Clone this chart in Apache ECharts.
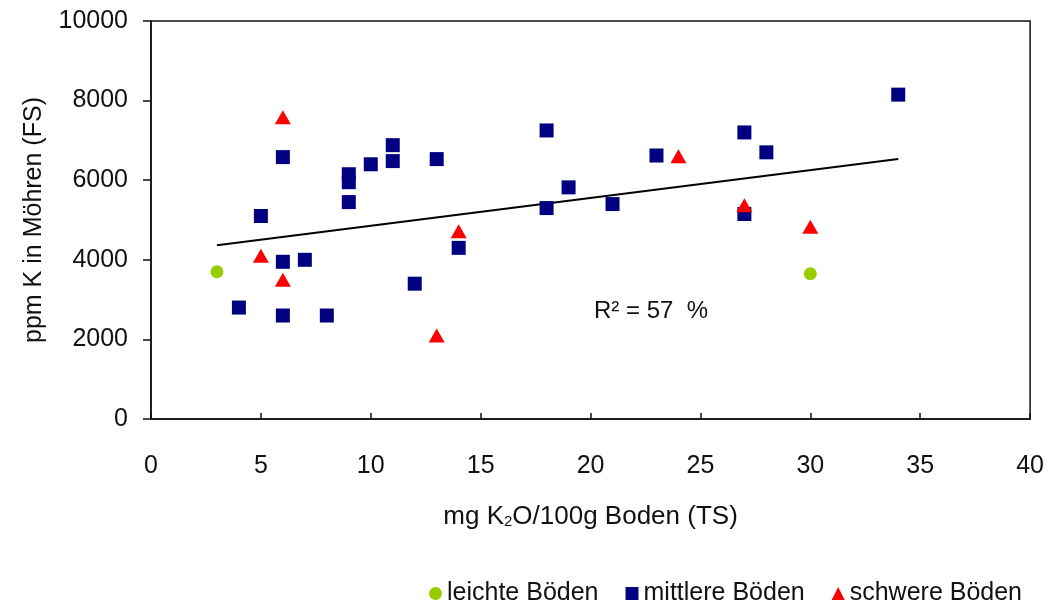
<!DOCTYPE html>
<html>
<head>
<meta charset="utf-8">
<script src="https://cdn.jsdelivr.net/npm/echarts@6/dist/echarts.min.js"></script>
<style>
  html, body { margin: 0; padding: 0; background: #fff; }
  #chart { width: 1047px; height: 606px; }
</style>
</head>
<body>
<div id="chart"></div>
<script>
// Werte: [mg K2O/100g Boden, ppm K in Möhren]
var leichteBoeden = [[3, 3700], [30, 3650]]
var mittlereBoeden = [
  [4, 2800], [5, 5100], [6, 6580], [6, 3950], [6, 2600], [7, 4000], [8, 2600],
  [9, 5450], [9, 6150], [9, 5950], [10, 6400], [11, 6880], [11, 6480],
  [12, 3400], [13, 6530], [14, 4300], [18, 7250], [18, 5300], [19, 5820],
  [21, 5400], [23, 6620], [27, 7200], [27, 5150], [28, 6700], [34, 8150]
]
var schwereBoeden = [
  [5, 4100], [6, 7580], [6, 3500], [13, 2100], [14, 4720],
  [24, 6600], [27, 5370], [30, 4830]
]
// Trendlinie (Endpunkte)
var trendLinie = [[3, 4365], [34, 6530]]
var xTicks = [0, 40, 5]
var yTicks = [0, 10000, 2000]
var legendNamen = ['leichte Böden', 'mittlere Böden', 'schwere Böden']

var fontFam = '"Liberation Sans", Arial, sans-serif'
var chart = echarts.init(document.getElementById('chart'))

var option = {
  animation: false,
  textStyle: { fontFamily: fontFam, color: '#111' },
  grid: {
    left: 151, right: 13, top: 21, bottom: 187,
    show: true, borderColor: '#111', borderWidth: 1.5, backgroundColor: '#fff'
  },
  legend: {
    data: legendNamen,
    left: 424, top: 576,
    itemWidth: 13, itemHeight: 13, itemGap: 27,
    textStyle: { fontSize: 25, color: '#111', fontFamily: fontFam }
  },
  xAxis: {
    type: 'value', min: xTicks[0], max: xTicks[1], interval: xTicks[2],
    name: 'mg K{sub|2}O/100g Boden (TS)',
    nameLocation: 'middle', nameGap: 85,
    nameTextStyle: {
      fontSize: 26, color: '#111', fontFamily: fontFam,
      rich: { sub: { fontSize: 15, padding: [10, 0, 0, 0], color: '#111', fontFamily: fontFam } }
    },
    splitLine: { show: false },
    axisLine: { lineStyle: { color: '#111', width: 1.5 } },
    axisTick: { inside: true, length: 6, lineStyle: { color: '#111', width: 1.5 } },
    axisLabel: { fontSize: 25, color: '#111', margin: 35 }
  },
  yAxis: {
    type: 'value', min: yTicks[0], max: yTicks[1], interval: yTicks[2],
    name: 'ppm K in Möhren (FS)',
    nameLocation: 'middle', nameGap: 104,
    nameTextStyle: { fontSize: 25, color: '#111', fontFamily: fontFam },
    splitLine: { show: false },
    axisLine: { show: true, lineStyle: { color: '#111', width: 1.5 } },
    axisTick: { show: true, length: 8, lineStyle: { color: '#111', width: 1.5 } },
    axisLabel: { fontSize: 25, color: '#111', margin: 23, formatter: function (v) { return String(v) } }
  },
  graphic: [{
    type: 'text', left: 594, top: 299,
    style: { text: 'R² = 57  %', fontSize: 24, fill: '#111', fontFamily: fontFam }
  }],
  series: [
    {
      name: 'Trend', type: 'line', data: trendLinie, symbol: 'none',
      lineStyle: { color: '#000', width: 2 }, silent: true, z: 1
    },
    {
      name: legendNamen[0], type: 'scatter', data: leichteBoeden,
      symbol: 'circle', symbolSize: 13, itemStyle: { color: '#99cc00', opacity: 1 }, z: 3
    },
    {
      name: legendNamen[1], type: 'scatter', data: mittlereBoeden,
      symbol: 'rect', symbolSize: 14, itemStyle: { color: '#000080', opacity: 1 }, z: 2
    },
    {
      name: legendNamen[2], type: 'scatter', data: schwereBoeden,
      symbol: 'triangle', symbolSize: [16, 14], itemStyle: { color: '#ff0000', opacity: 1 }, z: 4
    }
  ]
}
chart.setOption(option)
</script>
</body>
</html>
